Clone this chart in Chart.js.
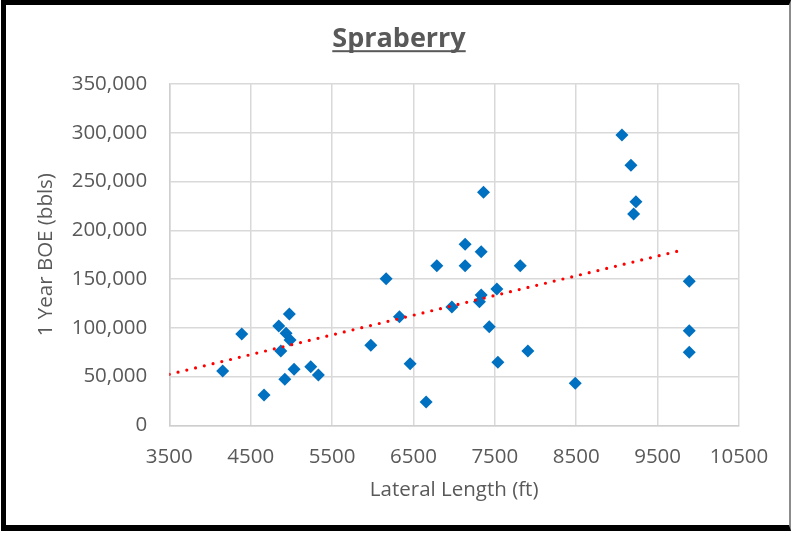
<!DOCTYPE html>
<html>
<head>
<meta charset="utf-8">
<title>Spraberry</title>
<script src="https://cdn.jsdelivr.net/npm/chart.js@4.4.1/dist/chart.umd.min.js"></script>
<style>
  html, body { margin: 0; padding: 0; background: #fff; }
  #frame {
    position: absolute; left: 1px; top: 0;
    width: 783px; height: 520px;
    border-left: 5px solid #000;
    border-top: 5px solid #000;
    border-bottom: 6px solid #000;
    border-right: 2px solid #8c8c8c;
    background: #fff;
  }
  #chart { display: block; }
</style>
</head>
<body>
<div id="frame"><canvas id="chart" width="783" height="520"></canvas></div>
<script>
// Spraberry wells: lateral length vs first-year BOE
const lateralFt = [
  4156, 4390, 4664, 4845, 4975, 4935, 4984, 4870, 4919, 5033,
  5238, 5332, 5976, 6164, 6328, 6459, 6656, 6787, 6972, 7135,
  7135, 7361, 7332, 7332, 7311, 7525, 7431, 7537, 7812, 7906,
  8488, 9062, 9172, 9234, 9205, 9889, 9889, 9889,
];
const boeBbls = [
  55700, 93600, 31100, 101800, 114100, 94300, 87500, 76200, 47200, 57400,
  60100, 51600, 82000, 150300, 111400, 63200, 23900, 163700, 121300, 185600,
  163700, 238900, 178000, 133600, 126700, 139800, 101100, 64600, 163700, 76200,
  43000, 297700, 266600, 229300, 216700, 147700, 97000, 74900,
];

// linear trendline end points
const trendX = [3500, 9830];
const trendY = [52300, 180200];

const xTicks = [3500, 4500, 5500, 6500, 7500, 8500, 9500, 10500];
const yMax = 350000;
const yStep = 50000;

const TITLE_TEXT = 'Spraberry';
const TEXT_GRAY = '#595959';
const GRID_GRAY = '#d9d9d9';
const FONT = '"Open Sans", "Noto Sans", sans-serif';

/* ── underlined title, centred over the whole chart ── */
const underlinedTitle = {
  id: 'underlinedTitle',
  afterDraw(chart) {
    const { ctx } = chart;
    const cx = 393;
    const baseline = 41.7;
    ctx.save();
    ctx.font = `bold 27px ${FONT}`;
    ctx.fillStyle = TEXT_GRAY;
    ctx.textAlign = 'center';
    ctx.textBaseline = 'alphabetic';
    ctx.fillText(TITLE_TEXT, cx, baseline);
    const w = ctx.measureText(TITLE_TEXT).width;
    ctx.fillRect(cx - w / 2, baseline + 3.5, w, 2);
    ctx.restore();
  },
};

const points = lateralFt.map((x, i) => ({ x, y: boeBbls[i] }));
const trend = trendX.map((x, i) => ({ x, y: trendY[i] }));

new Chart(document.getElementById('chart'), {
  type: 'scatter',
  data: {
    datasets: [
      {
        label: 'Wells',
        data: points,
        pointStyle: 'rectRot',
        pointRadius: 6.5,
        pointBorderWidth: 0,
        backgroundColor: '#0070c0',
        borderColor: '#0070c0',
        order: 1,
      },
      {
        label: 'Trend',
        type: 'line',
        data: trend,
        borderColor: '#ff0000',
        borderWidth: 3.2,
        borderDash: [0, 9],
        borderCapStyle: 'round',
        pointRadius: 0,
        fill: false,
        order: 0,
      },
    ],
  },
  options: {
    responsive: false,
    animation: false,
    layout: { padding: { left: 0, right: 50, top: 79, bottom: 0 } },
    plugins: {
      legend: { display: false },
      tooltip: { enabled: false },
      title: { display: false },
    },
    scales: {
      x: {
        type: 'linear',
        min: xTicks[0],
        max: xTicks[xTicks.length - 1],
        afterBuildTicks: s => { s.ticks = xTicks.map(v => ({ value: v })); },
        afterFit: s => { s.height = 99.7; },
        ticks: {
          color: TEXT_GRAY,
          font: { family: FONT, size: 20.5 },
          padding: 20,
          maxRotation: 0,
          callback: v => String(v),
        },
        grid: { color: GRID_GRAY, lineWidth: 1.5, drawTicks: false },
        border: { color: '#cfcfcf', width: 1.5 },
        title: {
          display: true,
          text: 'Lateral Length (ft)',
          color: TEXT_GRAY,
          font: { family: FONT, size: 20.5, lineHeight: 1.2 },
          padding: { top: 0, bottom: 22.7 },
        },
      },
      y: {
        min: 0,
        max: yMax,
        afterFit: s => { s.width = 163.3; },
        ticks: {
          stepSize: yStep,
          color: TEXT_GRAY,
          font: { family: FONT, size: 20.5 },
          padding: 22,
          callback: v => v.toLocaleString('en-US'),
        },
        grid: { color: GRID_GRAY, lineWidth: 1.5, drawTicks: false },
        border: { color: '#cfcfcf', width: 1.5 },
        title: {
          display: true,
          text: '1 Year BOE (bbls)',
          color: TEXT_GRAY,
          font: { family: FONT, size: 20.5, lineHeight: 1.2 },
          padding: { top: 27.7, bottom: 0 },
        },
      },
    },
  },
  plugins: [underlinedTitle],
});
</script>
</body>
</html>
